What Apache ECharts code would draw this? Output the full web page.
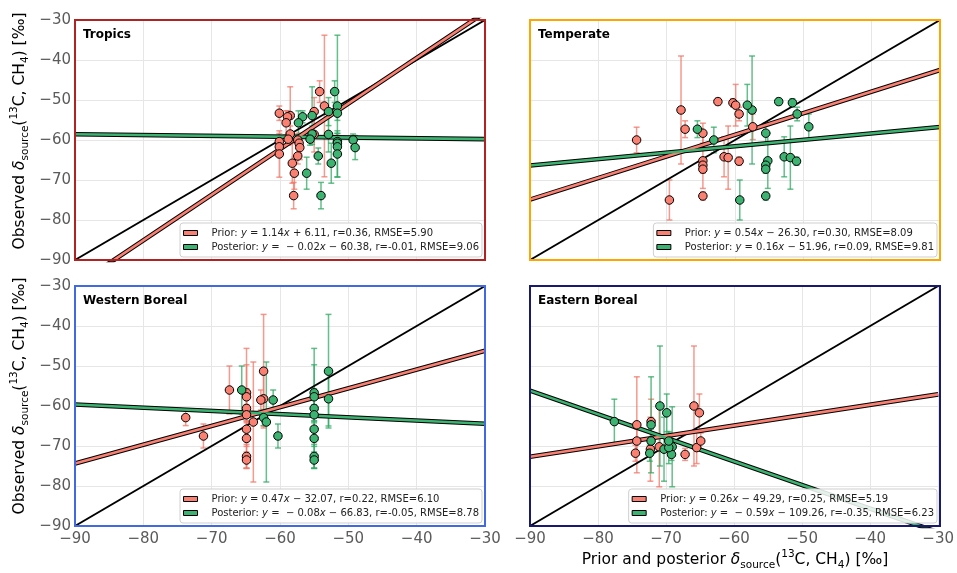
<!DOCTYPE html>
<html><head><meta charset="utf-8">
<script src="https://cdn.jsdelivr.net/npm/echarts@6/dist/echarts.min.js"></script>
<style>html,body{margin:0;padding:0;background:#fff}#c{width:957px;height:573px}</style>
</head><body><div id="c"></div>
<script>
// ---------------- data ----------------
const regions = ['Tropics', 'Temperate', 'Western Boreal', 'Eastern Boreal'];
const axisTicks = [-90, -80, -70, -60, -50, -40, -30];

const tropObs   = [-47.9, -51.5, -52.9, -53.3, -53.9, -54.2, -55.7, -58.5, -58.6, -59.8, -60.0, -60.4, -60.8, -61.7, -61.9, -63.5, -64.0, -65.8, -68.3, -73.9];
const tropPrior = [-54.2, -53.5, -55.0, -60.1, -58.5, -58.9, -59.1, -58.5, -55.0, -58.8, -57.4, -60.1, -57.2, -60.1, -57.1, -60.1, -57.4, -58.2, -57.9, -58.0];
const tropPost  = [-52.0, -51.6, -52.9, -51.6, -55.3, -56.7, -57.3, -55.3, -52.9, -55.6, -49.3, -51.6, -51.6, -51.6, -49.0, -51.6, -54.4, -52.5, -56.1, -54.0];
const tropErr   = [2.7, 17.7, 3.5, 1.8, 7.2, 1.5, 3.0, 2.0, 4.4, 1.5, 1.5, 2.0, 2.5, 2.0, 3.0, 5.8, 2.0, 5.0, 4.0, 3.3];

const tempObs   = [-60.0, -75.0, -52.5, -57.3, -58.3, -65.2, -66.3, -67.3, -74.0, -50.4, -64.2, -64.4, -50.7, -51.3, -53.5, -65.3, -56.7];
const tempPrior = [-74.4, -69.6, -67.9, -67.3, -64.7, -64.7, -64.7, -64.7, -64.7, -62.5, -61.6, -61.0, -60.3, -59.9, -59.4, -59.4, -57.4];
const tempPost  = [-63.1, -59.3, -57.5, -65.5, -55.5, -55.2, -55.5, -55.5, -55.5, -53.6, -52.8, -51.9, -51.6, -58.2, -50.9, -51.0, -49.2];
const tempErr   = [3.2, 5.0, 13.5, 2.1, 2.5, 6.9, 1.0, 1.0, 1.0, 0.8, 5.0, 7.9, 1.0, 5.2, 1.7, 1.0, 3.2];

const wbObs   = [-51.3, -56.0, -56.7, -57.7, -58.2, -58.5, -60.6, -62.2, -62.9, -64.0, -65.8, -67.5, -68.1, -72.6, -73.5];
const wbPrior = [-62.4, -67.4, -64.9, -64.9, -62.4, -62.8, -64.9, -64.9, -73.8, -63.9, -64.9, -71.2, -64.9, -64.9, -64.9];
const wbPost  = [-52.9, -65.6, -55.0, -55.0, -52.9, -61.0, -55.0, -55.0, -62.4, -62.0, -55.0, -60.3, -55.0, -55.0, -55.0];
const wbErr   = [14.2, 6.0, 7.0, 2.0, 6.8, 2.5, 15.0, 2.0, 2.0, 15.0, 2.0, 3.0, 2.0, 3.0, 2.0];

const ebObs   = [-60.0, -61.7, -63.9, -64.7, -68.75, -71.8, -70.8, -70.2, -72.1, -70.4, -68.75];
const ebPrior = [-65.9, -65.1, -72.2, -74.3, -74.3, -74.5, -72.3, -71.0, -67.2, -65.5, -64.9];
const ebPost  = [-70.9, -69.9, -77.6, -72.2, -72.2, -72.4, -70.3, -69.1, -69.2, -69.6, -69.6];
const ebErr   = [15.0, 4.7, 5.6, 12.0, 3.0, 2.0, 8.0, 10.0, 1.5, 4.0, 2.0];

const priorSlope     = [1.14, 0.54, 0.47, 0.26];
const priorIntercept = [6.11, -26.30, -32.07, -49.29];
const priorR         = ['0.36', '0.30', '0.22', '0.25'];
const priorRMSE      = ['5.90', '8.09', '6.10', '5.19'];
const postSlope      = [-0.02, 0.16, -0.08, -0.59];
const postIntercept  = [-60.38, -51.96, -66.83, -109.26];
const postR          = ['-0.01', '0.09', '-0.05', '-0.35'];
const postRMSE       = ['9.06', '9.81', '8.78', '6.23'];

// ---------------- presentation ----------------
const obsAll   = [tropObs, tempObs, wbObs, ebObs];
const priorAll = [tropPrior, tempPrior, wbPrior, ebPrior];
const postAll  = [tropPost, tempPost, wbPost, ebPost];
const errAll   = [tropErr, tempErr, wbErr, ebErr];

const FONT = 'DejaVu Sans';
const panelColors = ['#b22222', '#ffa500', '#4169e1', '#191970'];
const gridPos = [
  {left: 75, top: 20, width: 410, height: 240},
  {left: 530, top: 20, width: 410, height: 240},
  {left: 75, top: 286, width: 410, height: 240},
  {left: 530, top: 286, width: 410, height: 240}
];
const PRIOR_C = '#fa8072', POST_C = '#3cb371';
const PRIOR_E = 'rgba(240,120,105,0.75)', POST_E = 'rgba(50,170,100,0.75)';

function fmtNum(v) { return Math.abs(v).toFixed(2); }
function eqPlain(a, b) {
  return 'y = ' + (a < 0 ? '− ' + fmtNum(a) : fmtNum(a)) + 'x ' + (b < 0 ? '− ' : '+ ') + fmtNum(b);
}
function eqRich(a, b) {
  return '{i|y}{t| = ' + (a < 0 ? ' − ' + fmtNum(a) : fmtNum(a)) + '}{i|x}{t| ' + (b < 0 ? '− ' : '+ ') + fmtNum(b);
}
const richMap = {};
const priorNames = [], postNames = [];
for (let i = 0; i < 4; i++) {
  const pn = 'Prior: ' + eqPlain(priorSlope[i], priorIntercept[i]) + ', r=' + priorR[i] + ', RMSE=' + priorRMSE[i];
  const qn = 'Posterior: ' + eqPlain(postSlope[i], postIntercept[i]) + ', r=' + postR[i] + ', RMSE=' + postRMSE[i];
  richMap[pn] = '{t|Prior: }' + eqRich(priorSlope[i], priorIntercept[i]) + ', r=' + priorR[i] + ', RMSE=' + priorRMSE[i] + '}';
  richMap[qn] = '{t|Posterior: }' + eqRich(postSlope[i], postIntercept[i]) + ', r=' + postR[i] + ', RMSE=' + postRMSE[i] + '}';
  priorNames.push(pn); postNames.push(qn);
}

function errRender(color) {
  return function (params, api) {
    const x = api.value(0), y = api.value(1), e = api.value(2);
    const t = api.coord([x, y + e]), b = api.coord([x, y - e]);
    const cw = 3;
    const st = {stroke: color, lineWidth: 1.5};
    return {type: 'group', children: [
      {type: 'line', shape: {x1: t[0], y1: t[1], x2: b[0], y2: b[1]}, style: st},
      {type: 'line', shape: {x1: t[0] - cw, y1: t[1], x2: t[0] + cw, y2: t[1]}, style: st},
      {type: 'line', shape: {x1: b[0] - cw, y1: b[1], x2: b[0] + cw, y2: b[1]}, style: st}
    ]};
  };
}

const tickFmt = v => String(v).replace('-', '−');
const grids = [], xAxes = [], yAxes = [], series = [], legends = [], titles = [], graphics = [];
const labelRich = {
  a: {fontSize: 15.5, fontFamily: FONT, color: '#1a1a1a', lineHeight: 22},
  d: {fontSize: 15.5, fontFamily: FONT, fontStyle: 'italic', color: '#1a1a1a', lineHeight: 22},
  s: {fontSize: 10.5, fontFamily: FONT, color: '#1a1a1a', lineHeight: 11, verticalAlign: 'bottom'},
  p: {fontSize: 10.5, fontFamily: FONT, color: '#1a1a1a', lineHeight: 11, verticalAlign: 'top'},
  b: {fontSize: 10.5, fontFamily: FONT, color: '#1a1a1a', lineHeight: 11, verticalAlign: 'bottom'}
};
const ylabelText = '{a|Observed }{d|δ}{s|source}{a|(}{p|13}{a|C, CH}{b|4}{a|) [‰]}';
const xlabelText = '{a|Prior and posterior }{d|δ}{s|source}{a|(}{p|13}{a|C, CH}{b|4}{a|) [‰]}';

for (let i = 0; i < 4; i++) {
  const g = gridPos[i];
  grids.push(Object.assign({show: false, containLabel: false}, g));
  xAxes.push({
    gridIndex: i, type: 'value', min: axisTicks[0], max: axisTicks[axisTicks.length - 1], interval: 10,
    axisLine: {show: false}, axisTick: {show: false},
    splitLine: {show: true, lineStyle: {color: '#e6e6e6', width: 1}},
    axisLabel: {show: i >= 2, fontSize: 15, fontFamily: FONT, color: '#5b5b5b', margin: 6, formatter: tickFmt}
  });
  yAxes.push({
    gridIndex: i, type: 'value', min: axisTicks[0], max: axisTicks[axisTicks.length - 1], interval: 10,
    axisLine: {show: false}, axisTick: {show: false},
    splitLine: {show: true, lineStyle: {color: '#e6e6e6', width: 1}},
    axisLabel: {show: i % 2 === 0, fontSize: 15, fontFamily: FONT, color: '#5b5b5b', margin: 4, formatter: tickFmt}
  });
  const ax = {xAxisIndex: i, yAxisIndex: i};
  series.push(Object.assign({type: 'line', name: 'one' + i, data: [[axisTicks[0], axisTicks[0]], [axisTicks[6], axisTicks[6]]],
    symbol: 'none', silent: true, lineStyle: {color: '#000', width: 2}, z: 3}, ax));
  const lineData = (a, b) => [[axisTicks[0], a * axisTicks[0] + b], [axisTicks[6], a * axisTicks[6] + b]];
  [[priorSlope[i], priorIntercept[i], PRIOR_C, priorNames[i]], [postSlope[i], postIntercept[i], POST_C, postNames[i]]].forEach(([a, b, c, nm]) => {
    series.push(Object.assign({type: 'line', name: nm + ' outline', data: lineData(a, b), symbol: 'none', silent: true,
      lineStyle: {color: '#000', width: 4.6}, z: 4}, ax));
    series.push(Object.assign({type: 'line', name: nm, data: lineData(a, b), symbol: 'none', silent: true,
      itemStyle: {color: c}, lineStyle: {color: c, width: 2.6}, z: 5}, ax));
  });
  const obs = obsAll[i], pr = priorAll[i], po = postAll[i], er = errAll[i];
  series.push(Object.assign({type: 'custom', name: 'perr' + i, renderItem: errRender(PRIOR_E), silent: true, z: 2,
    data: pr.map((x, k) => [x, obs[k], er[k]])}, ax));
  series.push(Object.assign({type: 'custom', name: 'qerr' + i, renderItem: errRender(POST_E), silent: true, z: 2,
    data: po.map((x, k) => [x, obs[k], er[k]])}, ax));
  series.push(Object.assign({type: 'scatter', name: 'ppts' + i, symbolSize: 8.5, silent: true, z: 6,
    itemStyle: {color: PRIOR_C, borderColor: '#000', borderWidth: 1, opacity: 1},
    data: pr.map((x, k) => [x, obs[k]])}, ax));
  series.push(Object.assign({type: 'scatter', name: 'qpts' + i, symbolSize: 8.5, silent: true, z: 6,
    itemStyle: {color: POST_C, borderColor: '#000', borderWidth: 1, opacity: 1},
    data: po.map((x, k) => [x, obs[k]])}, ax));

  legends.push({
    data: [priorNames[i], postNames[i]], orient: 'vertical', selectedMode: false,
    right: 957 - (g.left + g.width) + 3, bottom: 573 - (g.top + g.height) + 3,
    icon: 'rect', itemWidth: 14, itemHeight: 5, itemGap: 4,
    itemStyle: {borderColor: '#000', borderWidth: 1},
    backgroundColor: 'rgba(255,255,255,0.85)', borderColor: '#cfcfcf', borderWidth: 1, borderRadius: 3,
    padding: [5, 3, 5, 3], z: 20,
    textStyle: {fontSize: 10, fontFamily: FONT, color: '#222', padding: [0, 0, 0, 9],
      rich: {t: {fontSize: 10, fontFamily: FONT, color: '#222', lineHeight: 12},
             i: {fontSize: 10, fontFamily: FONT, fontStyle: 'italic', color: '#222', lineHeight: 12}}},
    formatter: name => richMap[name]
  });
  titles.push({text: regions[i], left: g.left + 8, top: g.top + 9, padding: 0,
    textStyle: {fontSize: 12, fontWeight: 'bold', fontFamily: FONT, color: '#000'}});
  graphics.push({type: 'rect', z: 100, silent: true,
    shape: {x: g.left, y: g.top, width: g.width, height: g.height},
    style: {fill: null, stroke: panelColors[i], lineWidth: 2}});
}
graphics.push({type: 'text', x: 20, y: 131, rotation: Math.PI / 2, silent: true,
  style: {text: ylabelText, rich: labelRich, align: 'center', verticalAlign: 'middle'}});
graphics.push({type: 'text', x: 20, y: 396, rotation: Math.PI / 2, silent: true,
  style: {text: ylabelText, rich: labelRich, align: 'center', verticalAlign: 'middle'}});
graphics.push({type: 'text', x: 735, y: 560, silent: true,
  style: {text: xlabelText, rich: labelRich, align: 'center', verticalAlign: 'middle'}});

const option = {
  animation: false,
  backgroundColor: '#fff',
  grid: grids, xAxis: xAxes, yAxis: yAxes, series: series, legend: legends, title: titles,
  graphic: graphics
};
const chart = echarts.init(document.getElementById('c'), null, {renderer: 'canvas'});
chart.setOption(option);
</script></body></html>
